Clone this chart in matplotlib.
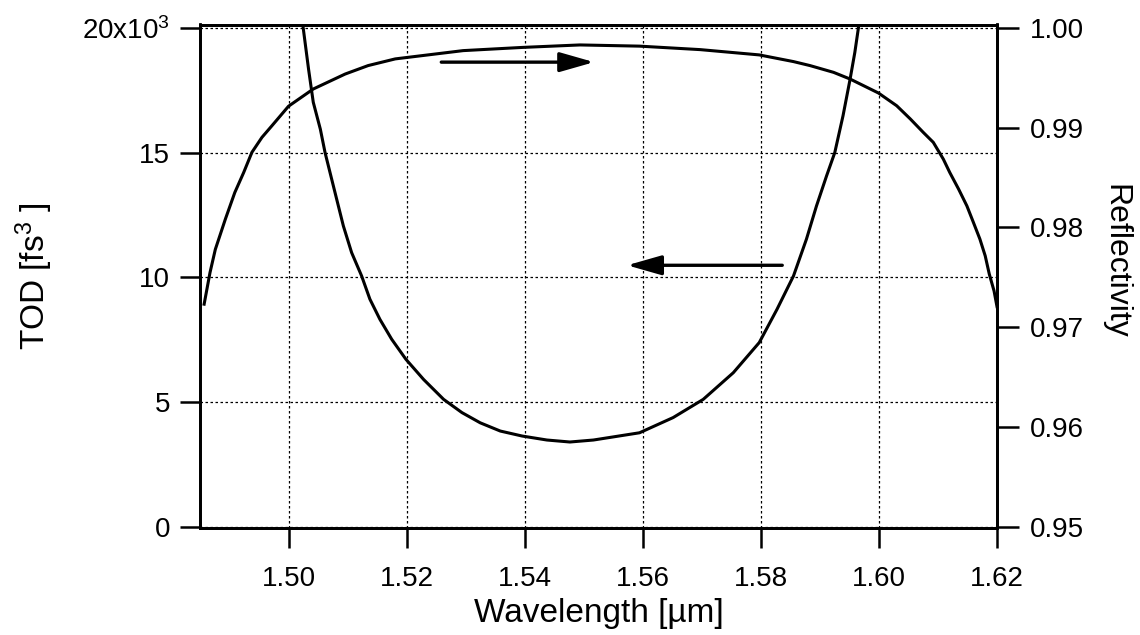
import numpy as np
import matplotlib.pyplot as plt
from matplotlib.ticker import FixedLocator, FuncFormatter

plt.rcParams['font.family'] = ['Liberation Sans', 'DejaVu Sans']
plt.rcParams['mathtext.default'] = 'regular'

# TOD curve (left axis, fs^3 in units of 10^3)
tod_wl = [1.5024, 1.5033, 1.5041, 1.5053, 1.5061, 1.5075, 1.5092, 1.5106, 1.5123,
          1.5137, 1.5154, 1.5174, 1.5198, 1.5228, 1.5262, 1.5293, 1.5324, 1.5358,
          1.5395, 1.5437, 1.5476, 1.5516, 1.5594, 1.5651, 1.5702, 1.5753, 1.5797,
          1.5827, 1.5855, 1.5877, 1.5894, 1.5911, 1.5925, 1.5939, 1.5951, 1.5959,
          1.5965]
tod_val = [19.99, 18.35, 17.02, 15.94, 15.00, 13.67, 12.06, 10.99, 10.05,
           9.12, 8.31, 7.51, 6.71, 5.90, 5.10, 4.57, 4.16, 3.83,
           3.63, 3.47, 3.39, 3.47, 3.76, 4.37, 5.10, 6.17, 7.38,
           8.71, 10.05, 11.53, 12.86, 14.06, 15.00, 16.48, 17.95, 19.02,
           19.99]

# reflectivity curve (right axis)
ref_wl = [1.4856, 1.4866, 1.4875, 1.4892, 1.4908, 1.4923, 1.4937, 1.4954, 1.4971,
          1.4999, 1.5041, 1.5095, 1.5134, 1.5180, 1.5295, 1.5395, 1.5493, 1.5594,
          1.5697, 1.5797, 1.5855, 1.5883, 1.5923, 1.5951, 1.5999, 1.6030, 1.6053,
          1.6075, 1.6092, 1.6109, 1.6120, 1.6135, 1.6149, 1.6160, 1.6171, 1.6180,
          1.6187, 1.6195, 1.6200]
ref_val = [0.97230, 0.97548, 0.97780, 0.98083, 0.98350, 0.98550, 0.98753, 0.98903, 0.99020,
           0.99215, 0.99388, 0.99538, 0.99623, 0.99690, 0.99773, 0.99805, 0.99830, 0.99818,
           0.99783, 0.99730, 0.99663, 0.99623, 0.99555, 0.99488, 0.99348, 0.99220, 0.99088,
           0.98953, 0.98853, 0.98685, 0.98550, 0.98383, 0.98215, 0.98050, 0.97883, 0.97715,
           0.97530, 0.97363, 0.97205]

x_ticks = [1.50, 1.52, 1.54, 1.56, 1.58, 1.60, 1.62]
tod_ticks = [0, 5, 10, 15, 20]
ref_ticks = [0.95, 0.96, 0.97, 0.98, 0.99, 1.00]

fig = plt.figure(figsize=(11.4, 6.35), dpi=100)
ax = fig.add_axes([200/1140, 107/635, 797/1140, 503.5/635])
ax2 = ax.twinx()

ax.plot(tod_wl, tod_val, color='black', lw=2.2, solid_joinstyle='round')
ax2.plot(ref_wl, ref_val, color='black', lw=2.2, solid_joinstyle='round')

ax.set_xlim(1.4849, 1.62)
ax.set_ylim(-0.06, 20.14)
ax2.set_ylim(0.95 - 0.06 * 0.0025, 1.0 + 0.14 * 0.0025)

ax.xaxis.set_major_locator(FixedLocator(x_ticks))
ax.xaxis.set_major_formatter(FuncFormatter(lambda v, p: f'{v:.2f}'))
ax.yaxis.set_major_locator(FixedLocator(tod_ticks))
ax.yaxis.set_major_formatter(FuncFormatter(
    lambda v, p: '20x10$^{3}$' if v == 20 else f'{v:.0f}'))
ax2.yaxis.set_major_locator(FixedLocator(ref_ticks))
ax2.yaxis.set_major_formatter(FuncFormatter(lambda v, p: f'{v:.2f}'))

ax.grid(True, color='black', lw=0.9, linestyle=(0, (2, 2)))
ax.set_axisbelow(True)

for a in (ax, ax2):
    for s in a.spines.values():
        s.set_linewidth(2.0)
ax.tick_params(axis='x', direction='out', length=14.5, width=1.8, labelsize=20, pad=13)
ax.tick_params(axis='y', direction='out', length=14.5, width=1.8, labelsize=20, pad=7)
ax2.tick_params(axis='y', direction='out', length=15.5, width=1.8, labelsize=20, pad=8)

ax.set_xlabel('Wavelength [µm]', fontsize=24)
ax.xaxis.set_label_coords(0.5, -0.14)
ax.set_ylabel('TOD [fs$^{3}$ ]', fontsize=24)
ax.yaxis.set_label_coords(-0.182, 0.5)
ax2.set_ylabel('Reflectivity', fontsize=23, rotation=-90, va='bottom')
ax2.yaxis.set_label_coords(1.13, 0.53)

arrow = dict(arrowstyle='-|>,head_length=2.1,head_width=0.6', color='black', lw=2.4,
             shrinkA=0, shrinkB=0, mutation_scale=10)
ax.annotate('', xy=(1.5517, 18.63), xytext=(1.5258, 18.63), arrowprops=arrow)
ax.annotate('', xy=(1.5573, 10.48), xytext=(1.5836, 10.48), arrowprops=arrow)

fig.savefig('out.png', dpi=100)
